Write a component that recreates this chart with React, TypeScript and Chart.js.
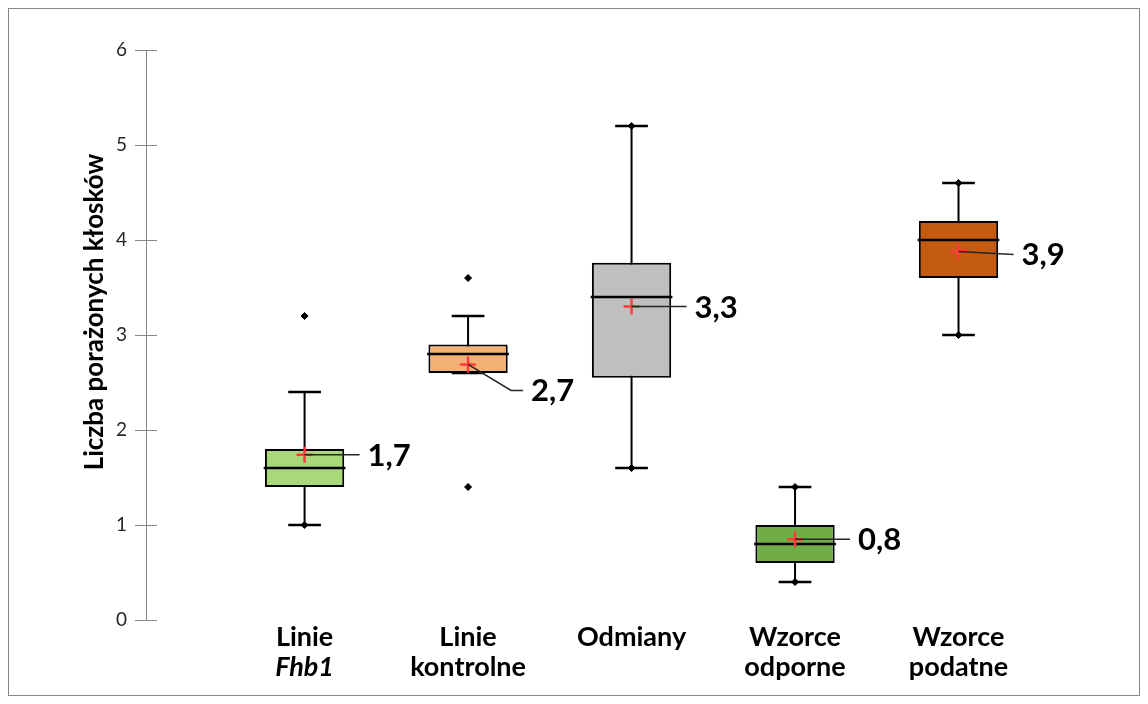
import React, { useEffect, useRef } from "react";
import { Chart, registerables } from "chart.js";

Chart.register(...registerables);

// ---------- data ----------
const categoryLine1 = ["Linie", "Linie", "Odmiany", "Wzorce", "Wzorce"];
const categoryLine2 = ["Fhb1", "kontrolne", "", "odporne", "podatne"];
const italicLine2 = [true, false, false, false, false];
const q1 = [1.4, 2.6, 2.55, 0.6, 3.6];
const median = [1.6, 2.8, 3.4, 0.8, 4.0];
const q3 = [1.8, 2.9, 3.76, 1.0, 4.2];
const whiskerLow = [1.0, 2.6, 1.6, 0.4, 3.0];
const whiskerHigh = [2.4, 3.2, 5.2, 1.4, 4.6];
const minValues = [1.0, 1.4, 1.6, 0.4, 3.0];
const maxValues = [3.2, 3.6, 5.2, 1.4, 4.6];
const means = [1.74, 2.69, 3.3, 0.85, 3.88];
const meanLabels = ["1,7", "2,7", "3,3", "0,8", "3,9"];
const yTickValues = [0, 1, 2, 3, 4, 5, 6];
const yTitle = "Liczba porażonych kłosków";

// ---------- styles ----------
const boxColors = ["#a9d87a", "#f4b174", "#bfbfbf", "#70ad47", "#c55a11"];
const labelDy = [0, 26, 0, 0, 3];
const FONT = "Lato, 'Open Sans', sans-serif";
const AXIS_GRAY = "#868686";
const CAP_HALF = 0.1;
const BOX_HALF = 0.25;

const xs = categoryLine1.map((_, i) => i + 1);

function withGaps(parts: { x: number; y: number | null }[][]) {
  const out: { x: number; y: number | null }[] = [];
  parts.forEach((p) => {
    out.push(...p);
    out.push({ x: p[0].x, y: null });
  });
  return out;
}

const whiskerData = withGaps(
  xs.map((x, i) => [
    { x, y: whiskerLow[i] },
    { x, y: whiskerHigh[i] },
  ])
);
const capData = withGaps(
  xs.flatMap((x, i) => [
    [
      { x: x - CAP_HALF, y: whiskerLow[i] },
      { x: x + CAP_HALF, y: whiskerLow[i] },
    ],
    [
      { x: x - CAP_HALF, y: whiskerHigh[i] },
      { x: x + CAP_HALF, y: whiskerHigh[i] },
    ],
  ])
);
const medianData = withGaps(
  xs.map((x, i) => [
    { x: x - BOX_HALF, y: median[i] },
    { x: x + BOX_HALF, y: median[i] },
  ])
);
const boxData = xs.map((x, i) => ({ x, y: [q1[i], q3[i]] }));
const extremeData = xs.flatMap((x, i) => [
  { x, y: minValues[i] },
  { x, y: maxValues[i] },
]);
const meanData = xs.map((x, i) => ({ x, y: means[i] }));

const decorPlugin = {
  id: "decor",
  beforeDraw(chart: any) {
    const ctx = chart.ctx;
    ctx.save();
    ctx.fillStyle = "#ffffff";
    ctx.fillRect(0, 0, chart.width, chart.height);
    ctx.strokeStyle = AXIS_GRAY;
    ctx.lineWidth = 1;
    ctx.strokeRect(0.5, 0.5, chart.width - 1, chart.height - 1);
    ctx.restore();
  },
  afterDraw(chart: any) {
    const ctx = chart.ctx;
    const xScale = chart.scales.x;
    const yScale = chart.scales.y;
    const area = chart.chartArea;
    ctx.save();
    // inner halves of y tick marks
    ctx.strokeStyle = AXIS_GRAY;
    ctx.lineWidth = 1;
    yTickValues.forEach((v) => {
      const py = Math.round(yScale.getPixelForValue(v)) + 0.5;
      ctx.beginPath();
      ctx.moveTo(area.left, py);
      ctx.lineTo(area.left + 11, py);
      ctx.stroke();
    });
    // y title
    ctx.save();
    ctx.translate(87, 304);
    ctx.rotate(-Math.PI / 2);
    ctx.fillStyle = "#000000";
    ctx.font = `bold 26px ${FONT}`;
    ctx.textAlign = "center";
    ctx.textBaseline = "middle";
    ctx.fillText(yTitle, 0, 0);
    ctx.restore();
    // category labels
    ctx.fillStyle = "#000000";
    ctx.textAlign = "center";
    ctx.textBaseline = "middle";
    xs.forEach((x, i) => {
      const px = xScale.getPixelForValue(x);
      ctx.font = `bold 27px ${FONT}`;
      ctx.fillText(categoryLine1[i], px, area.bottom + 17);
      if (categoryLine2[i]) {
        ctx.font = `${italicLine2[i] ? "italic " : ""}bold 27px ${FONT}`;
        ctx.fillText(categoryLine2[i], px, area.bottom + 47);
      }
    });
    // mean labels with leader lines
    xs.forEach((x, i) => {
      const px = xScale.getPixelForValue(x);
      const py = yScale.getPixelForValue(means[i]);
      const lx = px + 63;
      const ly = py + labelDy[i];
      ctx.strokeStyle = "#262626";
      ctx.lineWidth = 1.5;
      ctx.beginPath();
      ctx.moveTo(px, py);
      if (labelDy[i] > 10) {
        ctx.lineTo(lx - 20, ly);
      }
      ctx.lineTo(lx - 8, ly);
      ctx.stroke();
      ctx.fillStyle = "#000000";
      ctx.font = `bold 31px ${FONT}`;
      ctx.textAlign = "left";
      ctx.textBaseline = "middle";
      ctx.fillText(meanLabels[i], lx, ly + 1);
    });
    ctx.restore();
  },
};

export default function App() {
  const ref = useRef<HTMLCanvasElement | null>(null);
  useEffect(() => {
    if (!ref.current) return;
    const chart = new Chart(ref.current, {
      type: "bar",
      data: {
        datasets: [
          {
            type: "scatter",
            data: meanData,
            pointStyle: "cross",
            pointRadius: 8,
            borderColor: "#ff3b3b",
            backgroundColor: "#ff3b3b",
            borderWidth: 2.5,
            order: 0,
          } as any,
          {
            type: "scatter",
            data: extremeData,
            pointStyle: "rectRot",
            pointRadius: 3.5,
            borderColor: "#000000",
            backgroundColor: "#000000",
            borderWidth: 1,
            order: 1,
          } as any,
          {
            type: "line",
            data: capData,
            borderColor: "#000000",
            borderWidth: 2.5,
            pointRadius: 0,
            spanGaps: false,
            fill: false,
            order: 2,
          } as any,
          {
            type: "line",
            data: medianData,
            borderColor: "#000000",
            borderWidth: 2.5,
            pointRadius: 0,
            spanGaps: false,
            fill: false,
            order: 3,
          } as any,
          {
            type: "bar",
            data: boxData,
            backgroundColor: boxColors,
            borderColor: "#000000",
            borderWidth: 2,
            borderSkipped: false,
            barPercentage: 0.5,
            categoryPercentage: 1,
            order: 4,
          } as any,
          {
            type: "line",
            data: whiskerData,
            borderColor: "#000000",
            borderWidth: 2,
            pointRadius: 0,
            spanGaps: false,
            fill: false,
            order: 5,
          } as any,
        ],
      },
      options: {
        responsive: false,
        animation: false,
        layout: { padding: { left: 0, top: 42, right: 18, bottom: 76 } },
        plugins: {
          legend: { display: false },
          tooltip: { enabled: false },
        },
        scales: {
          x: {
            type: "linear",
            min: 0.03,
            max: 6.0,
            offset: false,
            display: false,
          },
          y: {
            type: "linear",
            min: 0,
            max: 6,
            afterBuildTicks: (s: any) => {
              s.ticks = yTickValues.map((v) => ({ value: v }));
            },
            afterFit: (s: any) => {
              s.width = 138;
            },
            border: { display: true, color: AXIS_GRAY, width: 1 },
            grid: {
              drawOnChartArea: false,
              drawTicks: true,
              tickLength: 11,
              color: AXIS_GRAY,
            },
            ticks: {
              padding: 8,
              color: "#262626",
              font: { family: FONT, size: 19 },
            },
          },
        },
      } as any,
      plugins: [decorPlugin],
    });
    return () => chart.destroy();
  }, []);
  return (
    <canvas
      ref={ref}
      width={1132}
      height={688}
      style={{ display: "block", width: 1132, height: 688 }}
    />
  );
}
